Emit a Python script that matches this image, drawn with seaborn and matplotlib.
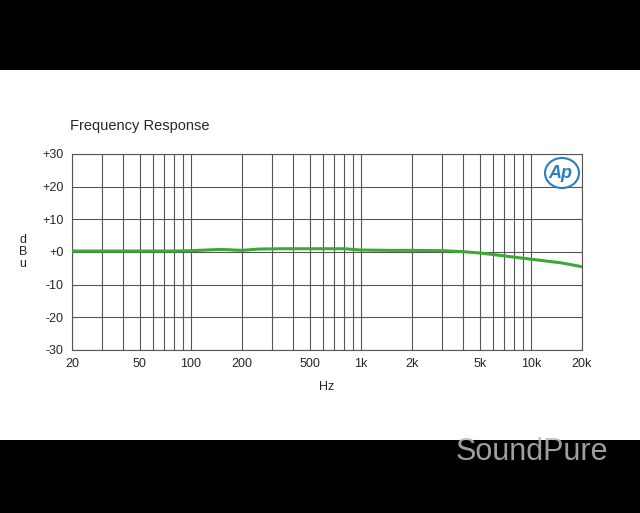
import matplotlib
matplotlib.use("Agg")
import matplotlib.pyplot as plt
import seaborn as sns
import pandas as pd
from matplotlib.patches import Rectangle, Ellipse
from matplotlib.ticker import FixedLocator, NullFormatter

freq_hz = [20, 30, 50, 80, 100, 150, 200, 250, 350, 500, 800, 1000, 1500, 2000, 3000, 4000, 5000, 7000, 10000, 15000, 20000]
level_dbu = [0.3, 0.3, 0.3, 0.3, 0.4, 0.8, 0.5, 0.9, 1.0, 1.0, 1.0, 0.6, 0.5, 0.5, 0.4, 0.1, -0.3, -1.2, -2.2, -3.3, -4.5]
tick_freqs = [20, 50, 100, 200, 500, 1000, 2000, 5000, 10000, 20000]
tick_labels = ["20", "50", "100", "200", "500", "1k", "2k", "5k", "10k", "20k"]
y_ticks = [-30, -20, -10, 0, 10, 20, 30]
y_labels = ["-30", "-20", "-10", "+0", "+10", "+20", "+30"]

df = pd.DataFrame({"Hz": freq_hz, "dBu": level_dbu})

sns.set_style("white")
plt.rcParams["font.family"] = ["Liberation Sans", "DejaVu Sans"]
fig = plt.figure(figsize=(6.4, 5.13), dpi=100, facecolor="black")
fig.patches.append(Rectangle((0, 73 / 513), 1, 370 / 513, transform=fig.transFigure,
                             facecolor="white", edgecolor="none", zorder=-10))

ax = fig.add_axes([72 / 640, 163 / 513, 510 / 640, 196 / 513])
sns.lineplot(data=df, x="Hz", y="dBu", ax=ax, color="#3aaa35", linewidth=2.2, zorder=3)
ax.set_xscale("log")
ax.set_xlim(20, 20000)
ax.set_ylim(-30, 30)

grid = [m * 10 ** e for e in range(1, 5) for m in range(1, 10)]
grid = [g for g in grid if 20 <= g <= 20000]
ax.xaxis.set_major_locator(FixedLocator(tick_freqs))
ax.xaxis.set_minor_locator(FixedLocator(grid))
ax.xaxis.set_minor_formatter(NullFormatter())
ax.set_xticklabels(tick_labels)
ax.set_yticks(y_ticks)
ax.set_yticklabels(y_labels)
ax.grid(True, which="both", axis="x", color="#555555", linewidth=0.8)
ax.grid(True, which="major", axis="y", color="#555555", linewidth=0.8)
for s in ax.spines.values():
    s.set_color("#555555")
    s.set_linewidth(0.8)
ax.tick_params(axis="both", which="both", length=0, labelsize=9, pad=6)
ax.set_xlabel("Hz", fontsize=9, labelpad=8)
ax.set_ylabel("d\nB\nu", fontsize=9, rotation=0, labelpad=14, va="center", linespacing=1.0)

fig.text(70 / 640, 1 - 126 / 513, "Frequency Response", fontsize=10.5, va="center")

# Ap logo
fig.patches.append(Ellipse((562 / 640, 1 - 173 / 513), 34 / 640, 30 / 513, transform=fig.transFigure,
                           facecolor="white", edgecolor="#2a7fc1", linewidth=1.5, zorder=5))
fig.text(560 / 640, 1 - 173 / 513, "Ap", color="#2a7fc1", fontsize=13, style="italic",
         fontweight="bold", ha="center", va="center", zorder=6)

# watermark
fig.text(532 / 640, 1 - 452 / 513, "SoundPure", color="#bbbbbb", fontsize=22, ha="center",
         va="center", alpha=0.85)

fig.savefig("out.png", dpi=100, facecolor=fig.get_facecolor())
